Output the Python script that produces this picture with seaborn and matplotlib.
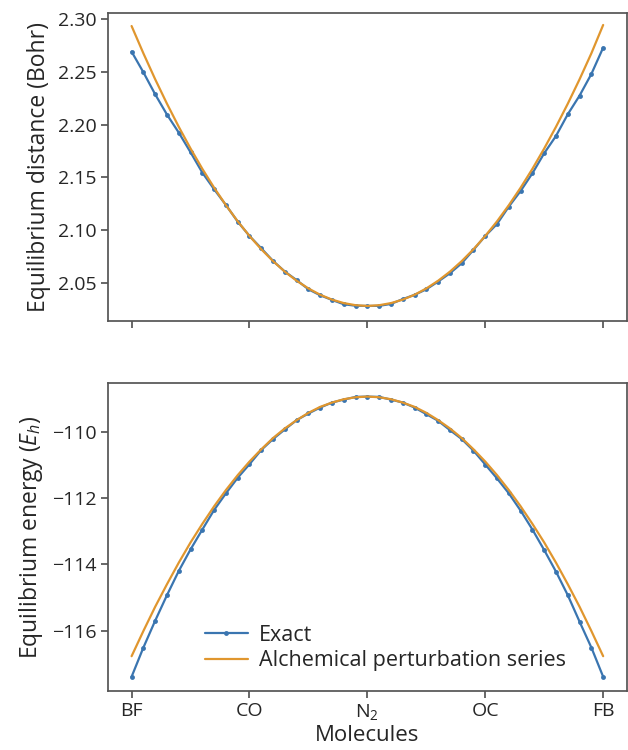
import matplotlib

matplotlib.use("Agg")

import matplotlib.pyplot as plt
import numpy as np
import pandas as pd
import seaborn as sns

# -----------------------------
# Data
# -----------------------------
molecules = ["BF", "CO", "N$_2$", "OC", "FB"]
tick_pos = [-1.0, -0.5, 0.0, 0.5, 1.0]

lam = np.round(np.linspace(-1, 1, 41), 3)

dist_exact = [
    2.2693, 2.2497, 2.2288, 2.2096, 2.1925, 2.1738, 2.1545, 2.1387, 2.1238, 2.1080,
    2.0944, 2.0827, 2.0707, 2.0606, 2.0525, 2.0438, 2.0381, 2.0337, 2.0296, 2.0282,
    2.0280,
    2.0281, 2.0299, 2.0345, 2.0385, 2.0438, 2.0511, 2.0590, 2.0685, 2.0812, 2.0944,
    2.1058, 2.1223, 2.1371, 2.1539, 2.1729, 2.1893, 2.2099, 2.2276, 2.2481, 2.2731,
]
dist_aps = [
    2.2936, 2.2677, 2.2431, 2.2199, 2.1980, 2.1774, 2.1581, 2.1402, 2.1236, 2.1083,
    2.0944, 2.0818, 2.0705, 2.0605, 2.0519, 2.0446, 2.0386, 2.0340, 2.0307, 2.0287,
    2.0280,
    2.0287, 2.0307, 2.0340, 2.0386, 2.0446, 2.0519, 2.0605, 2.0705, 2.0818, 2.0944,
    2.1083, 2.1236, 2.1402, 2.1581, 2.1774, 2.1980, 2.2199, 2.2431, 2.2677, 2.2946,
]

energy_exact = [
    -117.39, -116.51, -115.70, -114.93, -114.20, -113.55, -112.95, -112.36, -111.86, -111.39,
    -110.98, -110.55, -110.22, -109.93, -109.65, -109.45, -109.27, -109.12, -109.03, -108.95,
    -108.94,
    -108.95, -109.03, -109.12, -109.27, -109.47, -109.67, -109.95, -110.22, -110.57, -110.99,
    -111.41, -111.86, -112.38, -112.95, -113.57, -114.22, -114.93, -115.73, -116.51, -117.39,
]
energy_aps = [
    -116.77, -116.01, -115.28, -114.60, -113.95, -113.34, -112.78, -112.25, -111.76, -111.31,
    -110.90, -110.53, -110.19, -109.90, -109.65, -109.43, -109.25, -109.12, -109.02, -108.96,
    -108.94,
    -108.96, -109.02, -109.12, -109.25, -109.43, -109.65, -109.90, -110.19, -110.53, -110.90,
    -111.31, -111.76, -112.25, -112.78, -113.34, -113.95, -114.60, -115.28, -116.01, -116.77,
]

df = pd.DataFrame({
    "lam": lam,
    "dist_exact": dist_exact,
    "dist_aps": dist_aps,
    "energy_exact": energy_exact,
    "energy_aps": energy_aps,
})

# -----------------------------
# Plot Style
# -----------------------------
sns.set_theme(style="ticks")
plt.rcParams["font.family"] = ["Open Sans", "DejaVu Sans"]
plt.rcParams["mathtext.fontset"] = "custom"
plt.rcParams["mathtext.rm"] = "Open Sans"
plt.rcParams["mathtext.it"] = "Open Sans:italic"
plt.rcParams["mathtext.default"] = "regular"
plt.rcParams["axes.edgecolor"] = "#555555"

BLUE = "#3a75b0"
ORANGE = "#e0962e"

fig = plt.figure(figsize=(6.28, 7.5), dpi=100)
ax1 = fig.add_axes([0.172, 0.5724, 0.826, 0.4099])
ax2 = fig.add_axes([0.172, 0.0791, 0.826, 0.4098], sharex=ax1)

# top: equilibrium distance
sns.lineplot(data=df, x="lam", y="dist_exact", ax=ax1, color=BLUE, lw=1.6,
             marker="o", markersize=3.5, markeredgewidth=0)
sns.lineplot(data=df, x="lam", y="dist_aps", ax=ax1, color=ORANGE, lw=1.6)
ax1.set_ylim(2.014, 2.3057)
ax1.set_yticks([2.05, 2.10, 2.15, 2.20, 2.25, 2.30])
ax1.set_ylabel("Equilibrium distance (Bohr)", fontsize=16.5, labelpad=5)
ax1.set_xlabel("")
ax1.tick_params(labelbottom=False)

# bottom: equilibrium energy
sns.lineplot(data=df, x="lam", y="energy_exact", ax=ax2, color=BLUE, lw=1.6,
             marker="o", markersize=3.5, markeredgewidth=0, label="Exact")
sns.lineplot(data=df, x="lam", y="energy_aps", ax=ax2, color=ORANGE, lw=1.6,
             label="Alchemical perturbation series")
ax2.set_ylim(-117.81, -108.54)
ax2.set_yticks([-116, -114, -112, -110])
ax2.set_ylabel("Equilibrium energy ($\\mathit{E_h}$)", fontsize=16.5, labelpad=5)
ax2.set_xlabel("Molecules", fontsize=16, labelpad=2)
ax2.set_xticks(tick_pos)
ax2.set_xticklabels(molecules)
ax2.legend(loc="lower left", bbox_to_anchor=(0.17, 0.035), borderaxespad=0,
           frameon=False, fontsize=15.5, handlelength=2.0, handletextpad=0.5,
           labelspacing=0.2)

for ax in (ax1, ax2):
    ax.tick_params(labelsize=14, length=5, color="#555555", pad=3)
    ax.margins(x=0.05)

fig.savefig("out.png", dpi=100)
plt.close("all")
